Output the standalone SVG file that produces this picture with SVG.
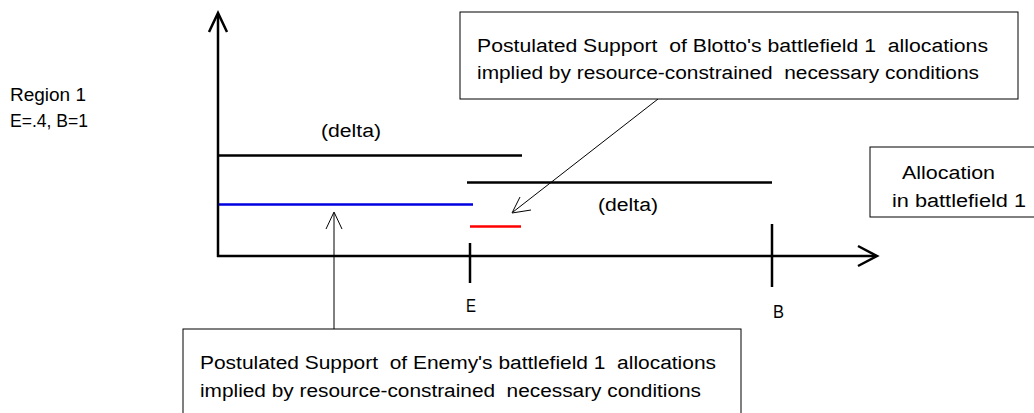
<svg xmlns="http://www.w3.org/2000/svg" width="1034" height="413" viewBox="0 0 1034 413">
<style>
text{font-family:"Liberation Sans",Arial,sans-serif;font-size:18px;fill:#000;white-space:pre}
.ax{stroke:#000;stroke-width:2.5;fill:none}
.thin{stroke:#000;stroke-width:1;fill:none}
.box{stroke:#000;stroke-width:1;fill:#fff}
</style>
<rect width="1034" height="413" fill="#fff"/>
<g id="axes">
<line class="ax" x1="218" y1="257" x2="218" y2="14"/>
<polyline class="ax" points="209,32 218,13 227,32"/>
<line class="ax" x1="217" y1="256" x2="876" y2="256"/>
<polyline class="ax" points="858,246 877,256 858,266"/>
<line class="ax" x1="470" y1="243" x2="470" y2="283"/>
<line class="ax" x1="772" y1="224" x2="772" y2="287"/>
</g>
<g id="lines">
<line class="ax" x1="219" y1="155.5" x2="522" y2="155.5"/>
<line class="ax" x1="467" y1="182.5" x2="772" y2="182.5"/>
<line stroke="#0000e0" stroke-width="2.5" x1="219" y1="204.5" x2="473" y2="204.5"/>
<line stroke="#f00" stroke-width="2.5" x1="470" y1="226.5" x2="521" y2="226.5"/>
</g>
<g id="labels">
<text x="10" y="101" textLength="76" lengthAdjust="spacingAndGlyphs">Region 1</text>
<text x="10" y="127" textLength="78" lengthAdjust="spacingAndGlyphs">E=.4, B=1</text>
<text x="321" y="137" textLength="60" lengthAdjust="spacingAndGlyphs">(delta)</text>
<text x="598" y="211" textLength="60" lengthAdjust="spacingAndGlyphs">(delta)</text>
<text x="466" y="312" textLength="10" lengthAdjust="spacingAndGlyphs">E</text>
<text x="773" y="318" textLength="11" lengthAdjust="spacingAndGlyphs">B</text>
</g>
<g id="connectors">
<line class="thin" x1="658" y1="99" x2="513" y2="212"/>
<polyline class="thin" points="520,197 512,213 531,210"/>
<line class="thin" x1="334" y1="329" x2="334" y2="213"/>
<polyline class="thin" points="326,229 334,212 342,229"/>
</g>
<g id="box-blotto">
<rect class="box" x="460" y="12" width="558" height="87"/>
<text x="477" y="52" textLength="511" lengthAdjust="spacingAndGlyphs">Postulated Support  of Blotto's battlefield 1  allocations</text>
<text x="477" y="79" textLength="502" lengthAdjust="spacingAndGlyphs">implied by resource-constrained  necessary conditions</text>
</g>
<g id="box-enemy">
<rect class="box" x="183" y="329" width="558" height="95"/>
<text x="200" y="369" textLength="516" lengthAdjust="spacingAndGlyphs">Postulated Support  of Enemy's battlefield 1  allocations</text>
<text x="200" y="397" textLength="501" lengthAdjust="spacingAndGlyphs">implied by resource-constrained  necessary conditions</text>
</g>
<g id="box-allocation">
<rect class="box" x="870" y="147" width="170" height="70"/>
<text x="902" y="179" textLength="93" lengthAdjust="spacingAndGlyphs">Allocation</text>
<text x="892" y="207" textLength="134" lengthAdjust="spacingAndGlyphs">in battlefield 1</text>
</g>
</svg>
